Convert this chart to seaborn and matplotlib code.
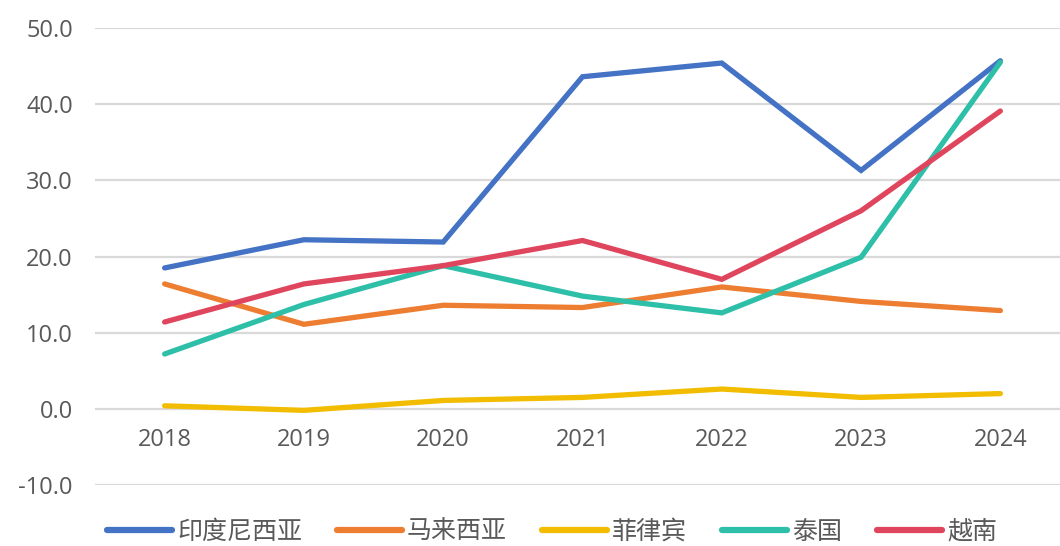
import matplotlib
matplotlib.use("Agg")
import matplotlib.pyplot as plt
import seaborn as sns
import pandas as pd
from matplotlib.lines import Line2D

years = ["2018", "2019", "2020", "2021", "2022", "2023", "2024"]
series_names = ["印度尼西亚", "马来西亚", "菲律宾", "泰国", "越南"]
indonesia = [18.5, 22.2, 21.9, 43.6, 45.4, 31.3, 45.7]
malaysia = [16.4, 11.1, 13.6, 13.3, 16.0, 14.1, 12.9]
philippines = [0.4, -0.2, 1.1, 1.5, 2.6, 1.5, 2.0]
thailand = [7.2, 13.7, 18.8, 14.8, 12.6, 19.9, 45.5]
vietnam = [11.4, 16.4, 18.8, 22.1, 17.0, 26.0, 39.1]
y_ticks = [-10, 0, 10, 20, 30, 40, 50]

colors = ["#4472C4", "#ED7D31", "#F2BC00", "#2EBFA8", "#E0455E"]

rows = []
for name, vals in zip(series_names, [indonesia, malaysia, philippines, thailand, vietnam]):
    for i, (yr, v) in enumerate(zip(years, vals)):
        rows.append({"idx": i, "year": yr, "value": v, "country": name})
df = pd.DataFrame(rows)

sns.set_style("white")
plt.rcParams["font.family"] = ["Open Sans", "Noto Sans CJK SC", "DejaVu Sans"]

fig = plt.figure(figsize=(10.6, 5.46), dpi=100)
W, H = 1060, 546
left, right_px = 95, 1070
top_px, bot_px = 28, 485
ax = fig.add_axes([left / W, (H - bot_px) / H, (right_px - left) / W, (bot_px - top_px) / H])

sns.lineplot(data=df, x="idx", y="value", hue="country", palette=colors,
             hue_order=series_names, linewidth=3.8, ax=ax, legend=False,
             sort=False, solid_capstyle="round", solid_joinstyle="miter")

ax.set_xlim(-0.5, 6.5)
ax.set_ylim(-10, 50)
ax.set_yticks(y_ticks)
ax.set_yticklabels([f"{t:.1f}" for t in y_ticks])
ax.set_xticks(range(len(years)))
ax.set_xticklabels(years)
ax.grid(axis="y", color="#D9D9D9", linewidth=1.6)
ax.set_axisbelow(True)
for s in ["top", "right", "left"]:
    ax.spines[s].set_visible(False)
ax.spines["bottom"].set_position(("data", 0))
ax.spines["bottom"].set_color("none")
ax.tick_params(axis="y", length=0, pad=16, labelsize=17, labelcolor="#595959")
ax.tick_params(axis="x", length=0, pad=14, labelsize=17, labelcolor="#595959")
ax.set_xlabel("")
ax.set_ylabel("")

handles = [Line2D([0], [0], color=c, linewidth=4.5, solid_capstyle="round") for c in colors]
leg = fig.legend(handles, series_names, loc="center", bbox_to_anchor=(552 / W, 14 / H),
                 ncol=5, frameon=False, handlelength=2.6, handletextpad=0.2,
                 columnspacing=1.4, prop={"family": ["Noto Sans CJK SC"], "size": 18})
for t in leg.get_texts():
    t.set_color("#595959")

fig.savefig("out.png", dpi=100)
